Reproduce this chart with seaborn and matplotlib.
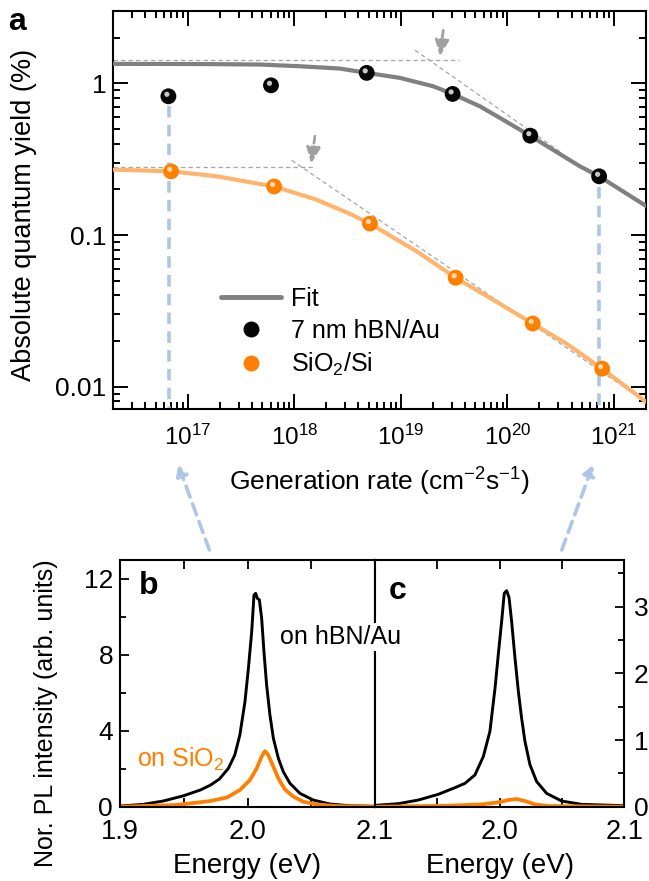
import numpy as np
import pandas as pd
import matplotlib
matplotlib.use("Agg")
import matplotlib.pyplot as plt
import matplotlib.ticker as mticker
from matplotlib.transforms import offset_copy
from matplotlib.lines import Line2D
import seaborn as sns

# ---------------- data : panel a ----------------
gen_hbn = [6.58e16, 6.04e17, 4.78e18, 3.06e19, 1.64e20, 7.26e20]
qy_hbn = [0.822, 0.971, 1.173, 0.852, 0.452, 0.244]
gen_sio2 = [6.97e16, 6.46e17, 5.13e18, 3.27e19, 1.73e20, 7.75e20]
qy_sio2 = [0.263, 0.209, 0.119, 0.0523, 0.0261, 0.01316]

fit_hbn_gen = [2.0e16, 1.30e17, 4.76e17, 1.13e18, 2.68e18, 4.78e18, 9.8e18, 2.01e19,
               3.06e19, 5.52e19, 8.51e19, 1.63e20, 4.79e20, 7.26e20, 1.99e21]
fit_hbn_qy = [1.345, 1.341, 1.331, 1.297, 1.252, 1.173, 1.087, 0.957,
              0.852, 0.706, 0.592, 0.452, 0.284, 0.244, 0.156]
fit_sio2_gen = [2.0e16, 6.97e16, 1.87e17, 6.46e17, 1.62e18, 3.33e18, 5.13e18, 1.41e19,
                3.27e19, 7.36e19, 1.73e20, 3.59e20, 7.74e20, 1.99e21]
fit_sio2_qy = [0.270, 0.263, 0.244, 0.209, 0.171, 0.138, 0.119, 0.078,
               0.0523, 0.0374, 0.0261, 0.0192, 0.01316, 0.00797]

# guide lines (asymptotes) and arrows, in data units
asym_hbn_flat = ([2.0e16, 3.5e19], [1.42, 1.42])
asym_hbn_slope = ([1.36e19, 3.1e20], [1.654, 0.355])
asym_sio2_flat = ([2.0e16, 1.51e18], [0.281, 0.281])
asym_sio2_slope = ([9.46e17, 1.50e21], [0.311, 0.0091])
arrow_hbn = ((2.5e19, 2.24), (2.33e19, 1.51))
arrow_sio2 = ((1.56e18, 0.448), (1.44e18, 0.296))
vline_low = (6.7e16, 0.706)
vline_high = (7.26e20, 0.207)

# ---------------- data : panels b, c ----------------
E_b_blk = [1.900, 1.918, 1.934, 1.950, 1.963, 1.971, 1.978, 1.985, 1.990, 1.994, 1.998,
           2.0007, 2.0033, 2.0051, 2.0064, 2.0077, 2.0093, 2.0111, 2.0129, 2.015, 2.0176,
           2.0203, 2.0242, 2.0281, 2.0333, 2.0412, 2.0516, 2.0647, 2.0804, 2.100]
I_b_blk = [0.035, 0.12, 0.30, 0.58, 0.88, 1.14, 1.46, 2.02, 2.72, 3.78, 5.53,
           7.29, 9.22, 11.16, 11.24, 10.98, 10.9, 9.93, 8.17, 6.41, 4.83,
           3.60, 2.55, 1.84, 1.23, 0.70, 0.35, 0.14, 0.05, 0.02]
E_b_org = [1.900, 1.944, 1.971, 1.984, 1.994, 2.002, 2.0072, 2.0111, 2.0137, 2.0163,
           2.0203, 2.0242, 2.0294, 2.036, 2.0438, 2.0542, 2.070, 2.100]
I_b_org = [0.0, 0.09, 0.30, 0.49, 0.88, 1.41, 2.02, 2.64, 2.93, 2.72,
           2.11, 1.49, 0.91, 0.53, 0.26, 0.12, 0.035, 0.0]
E_c_blk = [1.900, 1.9187, 1.9348, 1.9508, 1.9642, 1.9722, 1.9802, 1.9869, 1.9922, 1.9963,
           1.9989, 2.0016, 2.0037, 2.0056, 2.0075, 2.0096, 2.0123, 2.015, 2.0176, 2.0203,
           2.0243, 2.0297, 2.0377, 2.0497, 2.0658, 2.100]
I_c_blk = [0.02, 0.045, 0.10, 0.186, 0.286, 0.35, 0.477, 0.753, 1.13, 1.78,
           2.28, 2.78, 3.20, 3.24, 3.14, 2.78, 2.23, 1.73, 1.33, 0.98,
           0.63, 0.376, 0.20, 0.085, 0.035, 0.015]
E_c_org = [1.900, 1.959, 1.9856, 1.9989, 2.007, 2.0136, 2.0203, 2.0283, 2.039, 2.100]
I_c_org = [0.0, 0.015, 0.035, 0.065, 0.10, 0.115, 0.085, 0.035, 0.01, 0.0]

# ---------------- style ----------------
sns.set_theme(style="ticks")
plt.rcParams["font.family"] = ["Liberation Sans", "DejaVu Sans"]
plt.rcParams["mathtext.fontset"] = "custom"
plt.rcParams["mathtext.rm"] = "Liberation Sans"
plt.rcParams["mathtext.it"] = "Liberation Sans:italic"
plt.rcParams["mathtext.bf"] = "Liberation Sans:bold"
plt.rcParams["axes.linewidth"] = 1.5
for key in ("text.color", "axes.labelcolor", "xtick.color", "ytick.color", "axes.edgecolor"):
    plt.rcParams[key] = "black"

BLACK = "#000000"
ORANGE = "#ff8000"
ORANGE_FIT = "#ffb46e"
GRAY_FIT = "#808080"
BLUE = "#aec6e8"
GUIDE = "#a6a6a6"

W, H = 649, 881
fig = plt.figure(figsize=(W / 100, H / 100), dpi=100)


def fx(px):
    return px / W


def fy(py):
    return 1 - py / H


ax_a = fig.add_axes([fx(113.3), fy(409.3), fx(646) - fx(113.3), fy(11) - fy(409.3)])
ax_b = fig.add_axes([fx(120), fy(806.7), fx(375) - fx(120), fy(560) - fy(806.7)])
ax_c = fig.add_axes([fx(375), fy(806.7), fx(624.3) - fx(375), fy(560) - fy(806.7)])

# ---------------- panel a ----------------
ax = ax_a
ax.set_xscale("log")
ax.set_yscale("log")
ax.set_xlim(2.0e16, 2.0e21)
ax.set_ylim(0.0071, 3.0)

dash_guide = (0, (3.5, 2.5))
for xs, ys in (asym_hbn_flat, asym_hbn_slope, asym_sio2_flat, asym_sio2_slope):
    ax.plot(xs, ys, color=GUIDE, lw=0.9, ls=dash_guide, zorder=1)

for tail, tip in (arrow_hbn, arrow_sio2):
    ax.annotate("", xy=tip, xytext=tail,
                arrowprops=dict(arrowstyle="-|>,head_length=0.8,head_width=0.35",
                                color="#a0a0a0", lw=2.0, ls=(0, (2.5, 1.5)),
                                shrinkA=0, shrinkB=0), zorder=2)

for (xv, ytop) in (vline_low, vline_high):
    ax.plot([xv, xv], [ytop, 0.0071], color=BLUE, lw=2.6, ls=(0, (3.2, 2.0)),
            zorder=2, solid_capstyle="butt")

df_fit = pd.DataFrame({
    "gen": fit_hbn_gen + fit_sio2_gen,
    "qy": fit_hbn_qy + fit_sio2_qy,
    "sample": ["hbn"] * len(fit_hbn_gen) + ["sio2"] * len(fit_sio2_gen),
})
sns.lineplot(data=df_fit, x="gen", y="qy", hue="sample",
             palette={"hbn": GRAY_FIT, "sio2": ORANGE_FIT}, lw=3.0,
             legend=False, ax=ax, zorder=3, sort=False)

df_pts = pd.DataFrame({
    "gen": gen_hbn + gen_sio2,
    "qy": qy_hbn + qy_sio2,
    "sample": ["hbn"] * len(gen_hbn) + ["sio2"] * len(gen_sio2),
})
sns.scatterplot(data=df_pts, x="gen", y="qy", hue="sample",
                palette={"hbn": "#050505", "sio2": ORANGE}, s=130,
                edgecolor="none", legend=False, ax=ax, zorder=4)
hl = offset_copy(ax.transData, fig=fig, x=-1.5, y=2.0, units="dots")
ax.scatter(gen_hbn, qy_hbn, s=14, color="#c8c8c8", edgecolor="none", zorder=5, transform=hl)
ax.scatter(gen_sio2, qy_sio2, s=14, color="#ffd9b0", edgecolor="none", zorder=5, transform=hl)

ax.xaxis.set_major_locator(mticker.LogLocator(base=10, numticks=12))
ax.xaxis.set_minor_locator(mticker.LogLocator(base=10, subs=np.arange(2, 10), numticks=12))
ax.xaxis.set_minor_formatter(mticker.NullFormatter())
ax.yaxis.set_major_locator(mticker.FixedLocator([0.01, 0.1, 1]))
ax.yaxis.set_major_formatter(mticker.FixedFormatter(["0.01", "0.1", "1"]))
ax.yaxis.set_minor_locator(mticker.LogLocator(base=10, subs=np.arange(2, 10), numticks=12))
ax.yaxis.set_minor_formatter(mticker.NullFormatter())
ax.tick_params(which="both", direction="in", top=True, right=True, width=1.4, colors="black")
ax.tick_params(which="major", length=10.5)
ax.tick_params(which="minor", length=5.2)
ax.tick_params(axis="x", which="major", pad=11, labelsize=17.5)
ax.tick_params(axis="y", which="major", pad=5, labelsize=19)

ax.set_xlabel("Generation rate (cm$^{-2}$s$^{-1}$)", fontsize=19, va="center")
ax.xaxis.set_label_coords(0.5, (409.3 - 482) / 398.3)
ax.set_ylabel("Absolute quantum yield (%)", fontsize=19.5, va="center")
ax.yaxis.set_label_coords((24 - 113.3) / 532.7, (409.3 - 215) / 398.3)

handles = [
    Line2D([], [], color=GRAY_FIT, lw=3.5),
    Line2D([], [], ls="none", marker="o", markersize=11.5, color="#050505", mec="none"),
    Line2D([], [], ls="none", marker="o", markersize=11.5, color=ORANGE, mec="none"),
]
leg = ax.legend(handles, ["Fit", "7 nm hBN/Au", "SiO$_2$/Si"], loc="upper left",
                bbox_to_anchor=((221 - 113.3) / 532.7, (409.3 - 287) / 398.3),
                frameon=False, fontsize=18, handlelength=2.4, handletextpad=0.4,
                labelspacing=0.32, borderpad=0, borderaxespad=0)
fig.text(fx(8), fy(22), "a", fontsize=23, fontweight="bold", va="center", ha="left")

# ---------------- panels b and c ----------------
df_b = pd.DataFrame({"E": E_b_blk + E_b_org, "I": I_b_blk + I_b_org,
                     "s": ["blk"] * len(E_b_blk) + ["org"] * len(E_b_org)})
df_c = pd.DataFrame({"E": E_c_blk + E_c_org, "I": I_c_blk + I_c_org,
                     "s": ["blk"] * len(E_c_blk) + ["org"] * len(E_c_org)})
pal = {"blk": BLACK, "org": ORANGE}
sns.lineplot(data=df_b, x="E", y="I", hue="s", palette=pal, lw=2.1, legend=False,
             ax=ax_b, sort=False, hue_order=["blk", "org"])
sns.lineplot(data=df_c, x="E", y="I", hue="s", palette=pal, lw=2.1, legend=False,
             ax=ax_c, sort=False, hue_order=["blk", "org"])
for line in ax_b.lines + ax_c.lines:
    if matplotlib.colors.to_hex(line.get_color()) == ORANGE:
        line.set_linewidth(2.7)

for ax in (ax_b, ax_c):
    ax.set_xlim(1.9, 2.1)
    ax.set_xticks([1.9, 1.95, 2.0, 2.05, 2.1])
    ax.set_xlabel("Energy (eV)", fontsize=20, va="center")
    ax.xaxis.set_label_coords(0.5, (806.7 - 866) / 246.7)
    ax.tick_params(which="both", direction="in", width=1.3, colors="black")
    ax.tick_params(which="major", length=6.5)
    ax.tick_params(which="minor", length=4.5)
    ax.tick_params(axis="x", which="major", top=True, bottom=True, pad=9, labelsize=19.5)
    ax.tick_params(axis="y", labelsize=19)

ax_b.set_xticklabels(["1.9", "", "2.0", "", "2.1"])
ax_c.set_xticklabels(["", "", "2.0", "", "2.1"])

ax_b.set_ylim(0, 13)
ax_b.set_yticks([0, 4, 8, 12])
ax_b.set_yticks([2, 6, 10], minor=True)
ax_b.tick_params(axis="y", which="both", left=True, right=False, pad=5)
ax_b.set_ylabel("Nor. PL intensity (arb. units)", fontsize=18, va="center")
ax_b.yaxis.set_label_coords((46 - 120) / 255, (806.7 - 713) / 246.7)

ax_c.set_ylim(0, 3.7)
ax_c.set_yticks([0, 1, 2, 3])
ax_c.set_yticks([0.5, 1.5, 2.5, 3.5], minor=True)
ax_c.yaxis.tick_right()
ax_c.tick_params(axis="y", which="both", left=False, right=True, pad=7)
ax_c.set_ylabel("")

ax_b.text(0.074, 0.893, "b", transform=ax_b.transAxes, fontsize=23, fontweight="bold",
          va="center", ha="left")
ax_c.text(0.055, 0.876, "c", transform=ax_c.transAxes, fontsize=23, fontweight="bold",
          va="center", ha="left")
ax_b.text(1.9 + (136.7 - 120) / 255 * 0.2, 13 * (806.7 - 759) / 246.7, "on SiO$_2$",
          color=ORANGE, fontsize=18, va="center", ha="left")
fig.text(fx(280), fy(636.7), "on hBN/Au", fontsize=18, va="center", ha="left",
         bbox=dict(facecolor="white", edgecolor="none", pad=1.5), zorder=10)

# ---------------- connecting arrows ----------------
for tail, tip in (((209.4, 550), (178.3, 465)), ((561.8, 550), (592.9, 465))):
    fig.add_artist(matplotlib.patches.FancyArrowPatch(
        (fx(tail[0]), fy(tail[1])), (fx(tip[0]), fy(tip[1])), transform=fig.transFigure,
        arrowstyle="-|>,head_length=6,head_width=3.5", color=BLUE, lw=2.6,
        ls=(0, (3.2, 2.0)), shrinkA=0, shrinkB=0))

fig.savefig("out.png", dpi=100)
